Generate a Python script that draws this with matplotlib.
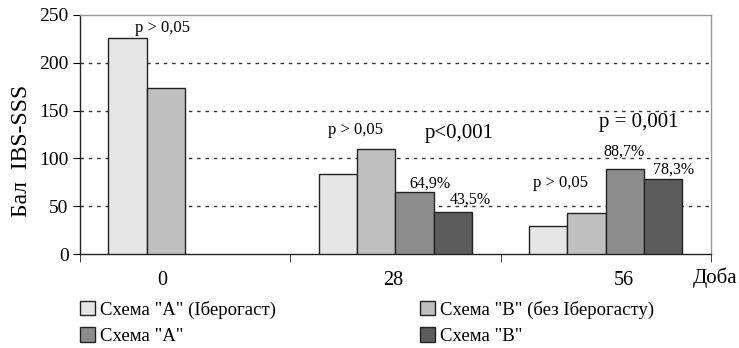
import numpy as np
import matplotlib.pyplot as plt

plt.rcParams['font.family'] = ['Liberation Serif', 'DejaVu Serif']

days = ["0", "28", "56"]
series_names = ['Схема "А" (Іберогаст)', 'Схема "В" (без Іберогасту)', 'Схема "А"', 'Схема "В"']
s1 = [226, 84, 29]
s2 = [174, 110, 43]
s3 = [np.nan, 65, 89]
s4 = [np.nan, 44, 78]
colors = ['#e6e6e6', '#bfbfbf', '#8c8c8c', '#5c5c5c']

fig = plt.figure(figsize=(7.39, 3.48), dpi=100)
ax = fig.add_axes([0.108, 0.270, 0.854, 0.687])

x = np.arange(len(days))
w = 0.182
handles = []
for k, vals in enumerate([s1, s2, s3, s4]):
    h = ax.bar(x + (k - 1.5) * w, vals, w, color=colors[k], edgecolor='#222222',
               linewidth=1.0, label=series_names[k], zorder=3)
    handles.append(h)

ax.set_xlim(-0.5, 2.5)
ax.set_ylim(0, 250)
ax.set_yticks([0, 50, 100, 150, 200, 250])
for yv in [50, 100, 150, 200]:
    ax.axhline(yv, color='#333333', linestyle=(0, (2.5, 3.5)), linewidth=1.0, zorder=1)

# labels sit a bit off the group centres in the original
ax.set_xticks([-0.11, 0.99, 2.086])
ax.set_xticklabels(days)
ax.set_xticks([-0.5, 0.5, 1.5, 2.5], minor=True)
ax.tick_params(axis='x', which='major', length=0, labelsize=14.5, pad=12)
ax.tick_params(axis='x', which='minor', length=6, direction='out', color='#222222')
ax.tick_params(axis='y', length=5, labelsize=14, direction='out', pad=3)

for s in ['top', 'right']:
    ax.spines[s].set_color('#9a9a9a')
    ax.spines[s].set_linewidth(1.0)
for s in ['left', 'bottom']:
    ax.spines[s].set_color('#222222')
    ax.spines[s].set_linewidth(1.0)

ax.set_ylabel('Бал  IBS-SSS', fontsize=17)
ax.yaxis.set_label_coords(-0.075, 0.43)
fig.text(0.938, 0.203, 'Доба', fontsize=15, ha='left', va='center')

# annotations
ax.text(-0.105, 236, 'p > 0,05', fontsize=12, ha='center', va='center')
ax.text(0.810, 130, 'p > 0,05', fontsize=12, ha='center', va='center')
ax.text(1.305, 126, 'p<0,001', fontsize=15, ha='center', va='center')
ax.text(1.166, 74, '64,9%', fontsize=11.5, ha='center', va='center')
ax.text(1.357, 57, '43,5%', fontsize=11.5, ha='center', va='center')
ax.text(1.786, 74, 'p > 0,05', fontsize=12, ha='center', va='center')
ax.text(2.157, 138, 'p = 0,001', fontsize=15, ha='center', va='center')
ax.text(2.086, 107, '88,7%', fontsize=11.5, ha='center', va='center')
ax.text(2.324, 88, '78,3%', fontsize=11.5, ha='center', va='center')

order = [0, 2, 1, 3]
fig.legend([handles[i] for i in order], [series_names[i] for i in order],
           ncol=2, loc='upper left', bbox_to_anchor=(0.108, 0.136), frameon=False,
           fontsize=13.5, handlelength=0.8, handleheight=0.8, handletextpad=0.3,
           columnspacing=7.65, labelspacing=0.45, borderpad=0, borderaxespad=0)

fig.savefig('out.png', dpi=100)
